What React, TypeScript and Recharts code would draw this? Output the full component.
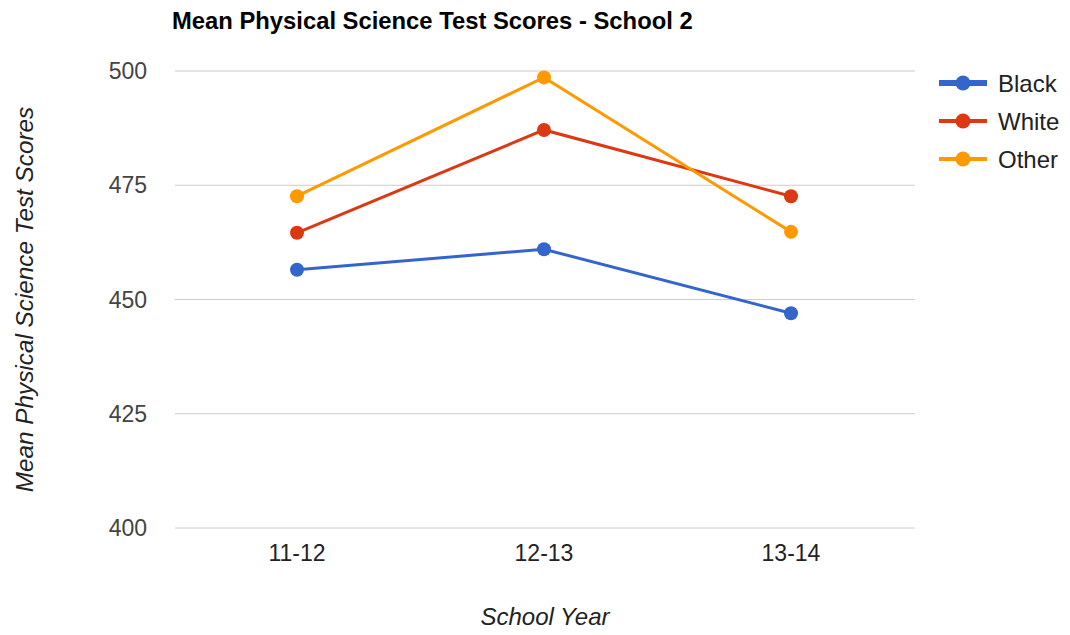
import React from 'react';
import { LineChart, Line, XAxis, YAxis, CartesianGrid, Legend, Label } from 'recharts';

const years = ['11-12', '12-13', '13-14'];
const black = [456.5, 461.0, 447.0];
const white = [464.6, 487.1, 472.6];
const other = [472.6, 498.6, 464.8];
const yTicks = [400, 425, 450, 475, 500];

const FONT = '"Liberation Sans", Arial, sans-serif';

const chartData = years.map((year, i) => ({
  year,
  Black: black[i],
  White: white[i],
  Other: other[i],
}));

const series = [
  { key: 'Black', color: '#3366cc', legendWidth: 6 },
  { key: 'White', color: '#dc3912', legendWidth: 4 },
  { key: 'Other', color: '#ff9900', legendWidth: 4 },
];

function renderLegend(props: any) {
  const payload = [...(props.payload || [])].sort(
    (a: any, b: any) =>
      series.findIndex((s) => s.key === a.value) - series.findIndex((s) => s.key === b.value)
  );
  return (
    <svg width={140} height={120}>
      {payload.map((entry: any, i: number) => {
        const s = series.find((x) => x.key === entry.value);
        const cy = 20 + i * 38;
        return (
          <g key={entry.value}>
            <line x1={9} x2={57} y1={cy} y2={cy} stroke={entry.color} strokeWidth={s ? s.legendWidth : 4} />
            <circle cx={33} cy={cy} r={7.5} fill={entry.color} />
            <text x={68} y={cy + 8.5} fontSize={24} fontFamily={FONT} fill="#222">
              {entry.value}
            </text>
          </g>
        );
      })}
    </svg>
  );
}

export default function App() {
  return (
    <div style={{ position: 'absolute', left: 0, top: 0, width: 1070, height: 635, background: '#fff' }}>
      <LineChart
        width={1070}
        height={635}
        data={chartData}
        margin={{ top: 71, right: 155, left: 0, bottom: 0 }}
      >
        <CartesianGrid vertical={false} stroke="#cccccc" />
        <XAxis
          dataKey="year"
          height={107}
          padding={{ left: 122, right: 124 }}
          axisLine={false}
          tickLine={false}
          tickMargin={11}
          tick={{ fontSize: 23, fill: '#222', fontFamily: FONT }}
        >
          <Label
            value="School Year"
            position="insideBottom"
            offset={10}
            style={{ fontSize: 24, fontStyle: 'italic', fill: '#222', fontFamily: FONT }}
          />
        </XAxis>
        <YAxis
          width={175}
          domain={[400, 500]}
          ticks={yTicks}
          axisLine={false}
          tickLine={false}
          tickMargin={22}
          tick={{ fontSize: 23, fill: '#444', fontFamily: FONT }}
        >
          <Label
            value="Mean Physical Science Test Scores"
            angle={-90}
            position="insideLeft"
            offset={24}
            style={{ textAnchor: 'middle', fontSize: 24.3, fontStyle: 'italic', fill: '#222', fontFamily: FONT }}
          />
        </YAxis>
        <Legend
          layout="vertical"
          align="center"
          verticalAlign="middle"
          wrapperStyle={{ left: 930, top: 63, width: 140 }}
          content={renderLegend}
        />
        {series.map((s) => (
          <Line
            key={s.key}
            type="linear"
            dataKey={s.key}
            name={s.key}
            stroke={s.color}
            strokeWidth={3}
            dot={{ r: 7, fill: s.color, stroke: 'none' }}
            activeDot={false}
            isAnimationActive={false}
          />
        ))}
      </LineChart>
      <svg
        width={1070}
        height={60}
        style={{ position: 'absolute', left: 0, top: 0, pointerEvents: 'none' }}
      >
        <text x={172} y={29} fontSize={23.8} fontWeight="bold" fontFamily={FONT} fill="#000">
          Mean Physical Science Test Scores - School 2
        </text>
      </svg>
    </div>
  );
}
